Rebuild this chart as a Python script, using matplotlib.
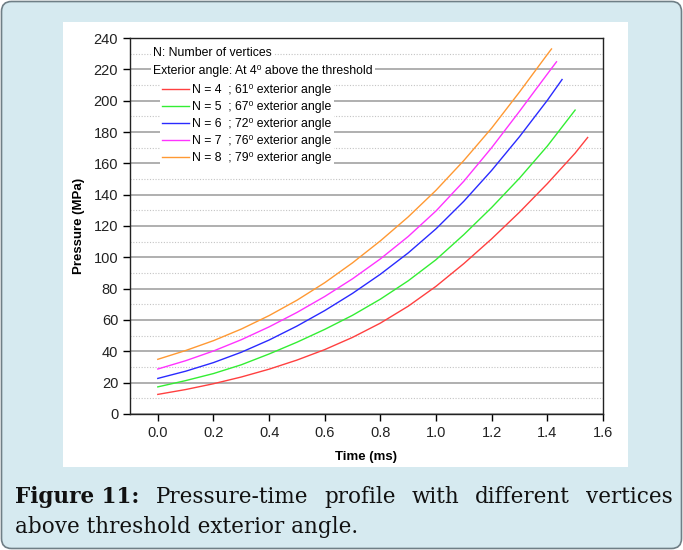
import matplotlib
matplotlib.use("Agg")
import matplotlib.pyplot as plt
from matplotlib.patches import FancyBboxPatch, Rectangle
from matplotlib.ticker import MultipleLocator, FormatStrFormatter

# values (time in ms, pressure in MPa)
time_n4 = [0.0, 0.1, 0.2, 0.3, 0.4, 0.5, 0.6, 0.7, 0.8, 0.9, 1.0, 1.1, 1.2, 1.3, 1.4, 1.5, 1.545]
pres_n4 = [12.5, 15.6, 19.3, 23.6, 28.6, 34.4, 41.1, 48.9, 58.0, 68.8, 81.5, 96.0, 111.8, 128.8, 147.0, 166.5, 176.5]

time_n5 = [0.0, 0.1, 0.2, 0.3, 0.4, 0.5, 0.6, 0.7, 0.8, 0.9, 1.0, 1.1, 1.2, 1.3, 1.4, 1.5]
pres_n5 = [17.3, 21.3, 25.8, 31.4, 38.3, 45.8, 54.0, 63.0, 73.3, 85.0, 98.5, 114.5, 131.8, 150.5, 171.0, 194.0]

time_n6 = [0.0, 0.1, 0.2, 0.3, 0.4, 0.5, 0.6, 0.7, 0.8, 0.9, 1.0, 1.1, 1.2, 1.3, 1.4, 1.453]
pres_n6 = [22.7, 27.3, 32.8, 39.4, 47.2, 56.1, 66.0, 77.0, 89.2, 102.8, 118.2, 135.8, 155.5, 177.0, 200.2, 213.5]

time_n7 = [0.0, 0.1, 0.2, 0.3, 0.4, 0.5, 0.6, 0.7, 0.8, 0.9, 1.0, 1.1, 1.2, 1.3, 1.4, 1.433]
pres_n7 = [28.7, 34.0, 40.2, 47.4, 55.6, 64.8, 75.0, 86.3, 99.0, 113.3, 129.6, 148.6, 170.0, 193.2, 217.0, 224.8]

time_n8 = [0.0, 0.1, 0.2, 0.3, 0.4, 0.5, 0.6, 0.7, 0.8, 0.9, 1.0, 1.1, 1.2, 1.3, 1.4, 1.415]
pres_n8 = [34.9, 40.5, 46.8, 54.2, 62.8, 72.6, 83.8, 96.5, 110.5, 125.8, 142.8, 161.8, 182.5, 205.5, 229.5, 233.0]

labels = ["N = 4  ; 61\u2070 exterior angle",
          "N = 5  ; 67\u2070 exterior angle",
          "N = 6  ; 72\u2070 exterior angle",
          "N = 7  ; 76\u2070 exterior angle",
          "N = 8  ; 79\u2070 exterior angle"]
colors = ["#ff4040", "#33ee33", "#2a2aff", "#ff33ff", "#ff9933"]

caption_line1 = ["Figure 11:", "Pressure-time", "profile", "with", "different", "vertices"]
caption_line2 = "above threshold exterior angle."

plt.rcParams["font.family"] = ["Liberation Sans", "DejaVu Sans"]

fig = plt.figure(figsize=(6.83, 5.5), dpi=100, facecolor="white")
# light blue card with rounded border, white panel behind the chart
fig.patches.append(FancyBboxPatch((0.015, 0.015), 6.80, 5.47,
                                  boxstyle="round,pad=0,rounding_size=0.1",
                                  transform=fig.dpi_scale_trans,
                                  fc="#d6eaf0", ec="#6f7f86", lw=1.2, zorder=-10))
fig.patches.append(Rectangle((0.63, 0.83), 5.65, 4.45, transform=fig.dpi_scale_trans,
                             fc="white", ec="none", zorder=-9))

ax = fig.add_axes([0.1903, 0.2473, 0.6925, 0.6836])
ax.set_facecolor("white")

series = [(time_n4, pres_n4), (time_n5, pres_n5), (time_n6, pres_n6),
          (time_n7, pres_n7), (time_n8, pres_n8)]
for (t, p), lab, c in zip(series, labels, colors):
    ax.plot(t, p, color=c, lw=1.0, label=lab)

ax.set_xlim(-0.1, 1.6)
ax.set_ylim(0, 240)
ax.xaxis.set_major_locator(MultipleLocator(0.2))
ax.yaxis.set_major_locator(MultipleLocator(20))
ax.yaxis.set_minor_locator(MultipleLocator(10))
ax.xaxis.set_major_formatter(FormatStrFormatter("%.1f"))
ax.grid(axis="y", which="major", color="#9a9a9a", lw=1.1)
ax.grid(axis="y", which="minor", color="#c4c4c4", lw=0.8, ls=(0, (1, 1.5)))
ax.set_axisbelow(True)
ax.tick_params(which="major", direction="out", length=5, width=1, labelsize=10.5,
               labelcolor="#222222")
ax.tick_params(which="minor", length=0)
for s in ax.spines.values():
    s.set_linewidth(1.0)
    s.set_color("#222222")

ax.set_xlabel("Time (ms)", fontweight="bold", fontsize=9.5, labelpad=8)
ax.set_ylabel("Pressure (MPa)", fontweight="bold", fontsize=9.5, labelpad=6)

hdr = dict(fc="white", ec="none", pad=1.5)
ax.text(0.0486, 0.961, "N: Number of vertices", transform=ax.transAxes,
        ha="left", va="center", fontsize=8.8, bbox=hdr)
ax.text(0.0486, 0.913, "Exterior angle: At 4\u2070 above the threshold", transform=ax.transAxes,
        ha="left", va="center", fontsize=8.8, bbox=hdr)

leg = ax.legend(loc="upper left", bbox_to_anchor=(0.0634, 0.882), fontsize=8.8,
                handlelength=2.2, handletextpad=0.3, labelspacing=0.41,
                borderpad=0.15, borderaxespad=0, frameon=True, fancybox=False,
                facecolor="white", edgecolor="none", framealpha=1)

# caption, first line justified between 0.15 in and 6.73 in
cap = dict(fontsize=15.5, family="DejaVu Serif", color="#111111", va="baseline",
           transform=fig.dpi_scale_trans)
words = []
for i, w in enumerate(caption_line1):
    words.append(fig.text(0, 0.47, w, fontweight="bold" if i == 0 else "normal", **cap))
fig.text(0.15, 0.17, caption_line2, **cap)

renderer = fig.canvas.get_renderer()
widths = [t.get_window_extent(renderer).width / fig.dpi for t in words]
gap = (6.73 - 0.15 - sum(widths)) / (len(words) - 1)
x = 0.15
for t, w in zip(words, widths):
    t.set_x(x)
    x += w + gap

fig.savefig("out.png", dpi=100, facecolor=fig.get_facecolor())
